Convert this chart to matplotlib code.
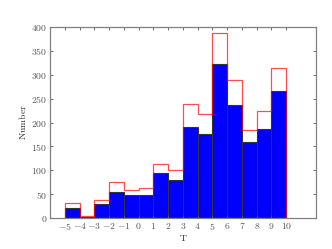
import matplotlib
matplotlib.use("Agg")
import matplotlib.pyplot as plt
import numpy as np
from matplotlib.ticker import FuncFormatter, MultipleLocator

plt.rcParams["mathtext.fontset"] = "cm"
plt.rcParams["font.family"] = "serif"

# T bins (left edges) and counts per bin
t_bins = [-5, -4, -3, -2, -1, 0, 1, 2, 3, 4, 5, 6, 7, 8, 9]
count_all = [32, 4, 37, 76, 58, 63, 113, 100, 239, 217, 387, 288, 184, 225, 315]
count_sel = [21, 3, 29, 54, 49, 48, 94, 79, 191, 177, 323, 237, 159, 187, 265]

edges = np.arange(-5, 11)

fig = plt.figure(figsize=(3.32, 2.49), dpi=100)
ax = fig.add_axes([0.151, 0.124, 0.80, 0.768])

ax.hist(t_bins, bins=edges, weights=count_sel, color="blue",
        edgecolor="#333333", linewidth=0.8)
ax.hist(t_bins, bins=edges, weights=count_all, histtype="step",
        color="red", linewidth=0.9, alpha=0.7)

ax.set_xlim(-6, 12)
ax.set_ylim(0, 400)
ax.set_xticks(np.arange(-5, 11))
ax.yaxis.set_major_locator(MultipleLocator(50))

fmt = FuncFormatter(lambda v, p: f"${int(round(v))}$")
ax.xaxis.set_major_formatter(fmt)
ax.yaxis.set_major_formatter(fmt)

ax.tick_params(direction="in", top=True, right=True, length=2.5, width=0.6,
               labelsize=7, colors="#555555", pad=2)
for s in ax.spines.values():
    s.set_color("#808080")
    s.set_linewidth(0.9)

ax.set_xlabel(r"$\mathrm{T}$", fontsize=7, color="#333333", labelpad=1)
ax.set_ylabel(r"$\mathrm{Number}$", fontsize=7, color="#333333", labelpad=2)

fig.savefig("out.png", dpi=100)
